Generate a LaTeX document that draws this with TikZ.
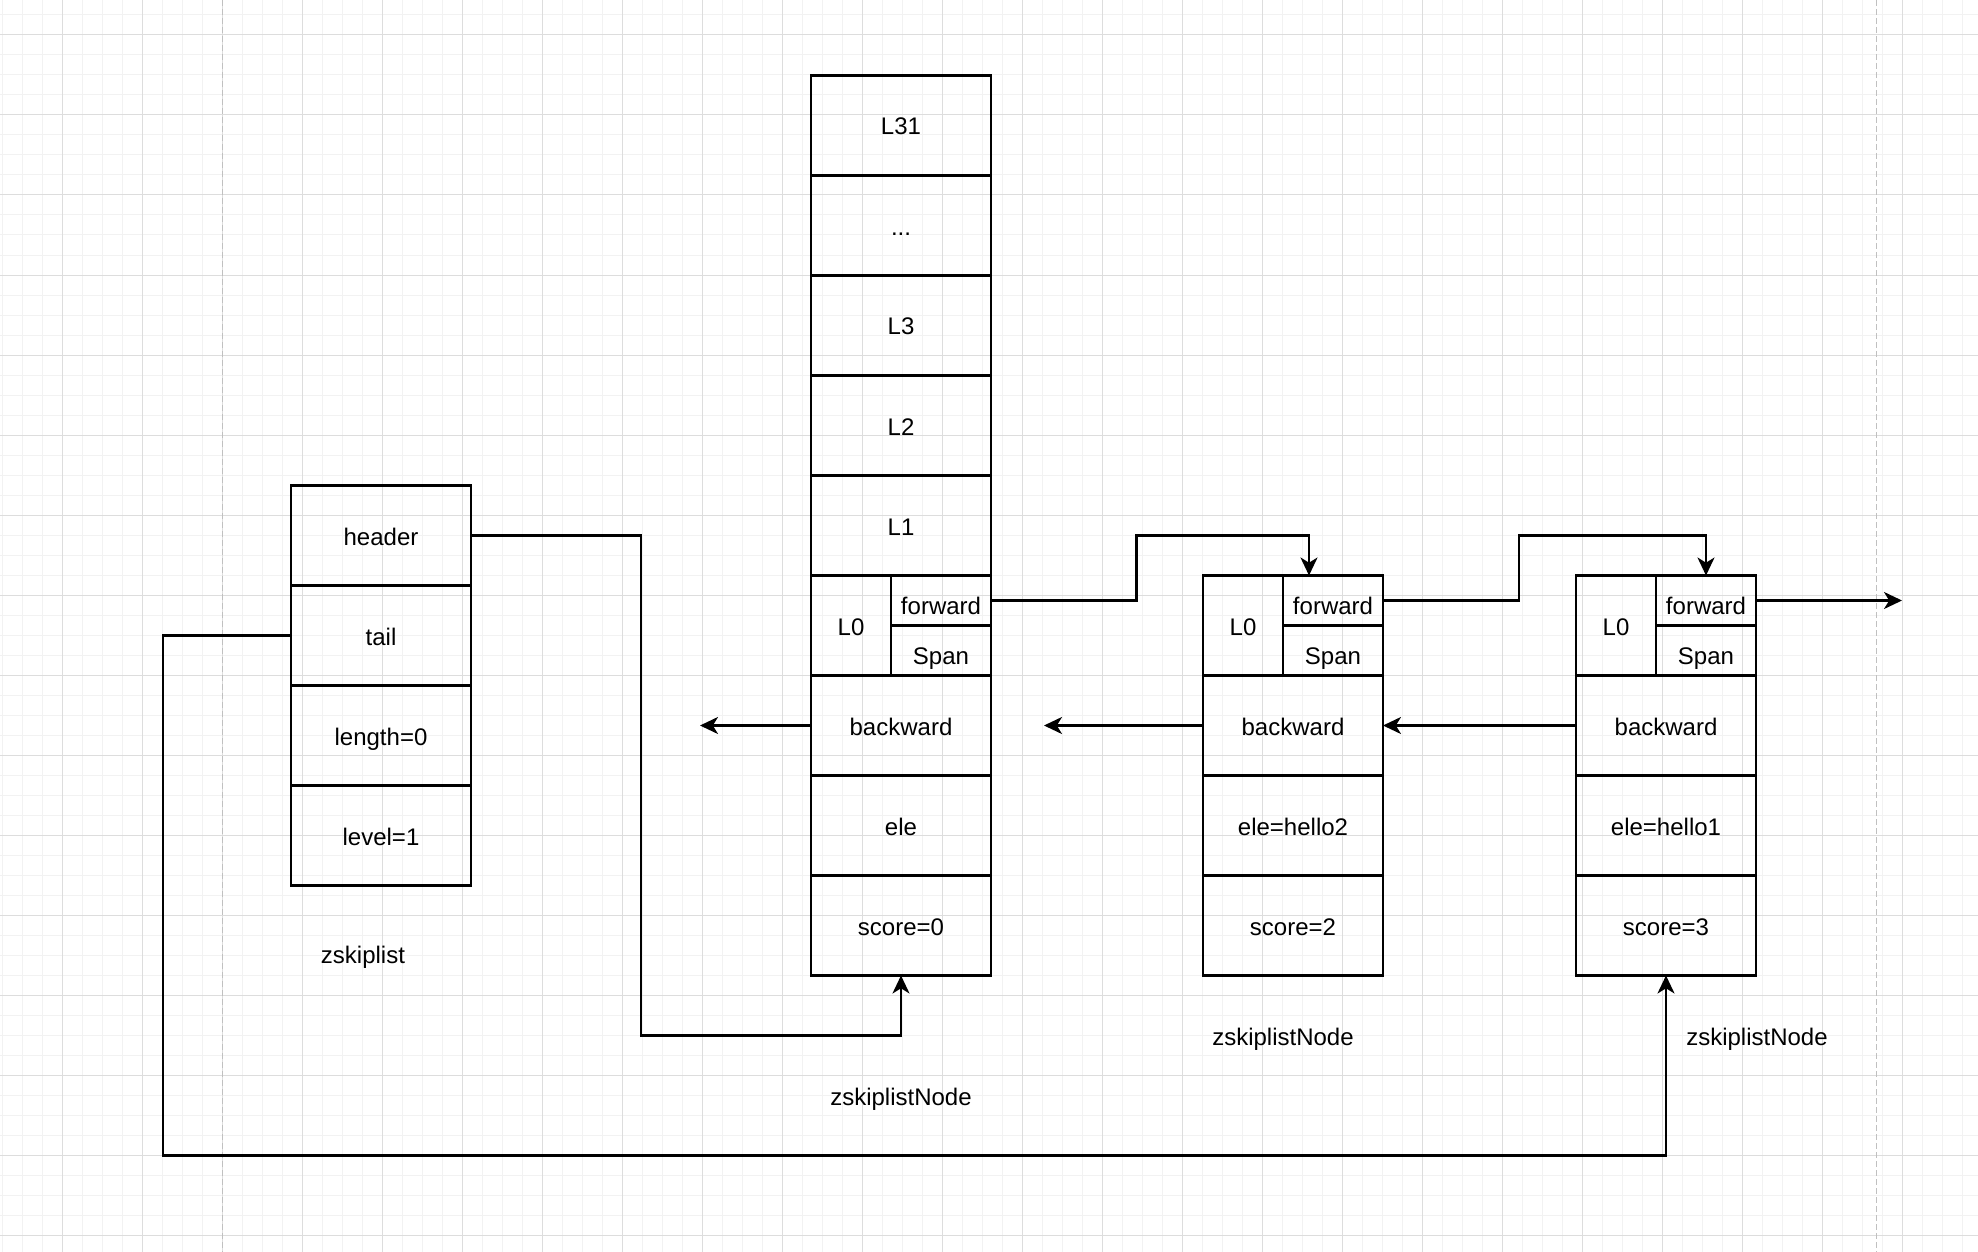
\documentclass[tikz,border=0pt]{standalone}
\usepackage{fontspec}
\setmainfont{Liberation Sans}
\usetikzlibrary{arrows.meta}
\definecolor{gmin}{HTML}{F2F2F2}
\definecolor{gmaj}{HTML}{DDDDDD}
\definecolor{pgbrk}{HTML}{C0C0C0}
\begin{document}
\begin{tikzpicture}[x=0.5pt,y=-0.5pt,
  txt/.style={font=\fontsize{12pt}{14pt}\selectfont, text height=12pt, text depth=2.5pt, inner sep=0pt, outer sep=0pt},
  cell/.style={txt, draw, line width=1.15pt, minimum width=90pt, minimum height=50pt},
  lcell/.style={txt, draw, line width=1.15pt, minimum width=40pt, minimum height=50pt},
  fcell/.style={txt, draw, line width=1.15pt, minimum width=50pt, minimum height=25pt, text height=16.5pt},
  lbl/.style={txt},
  conn/.style={line width=1.15pt, line join=miter, -{Stealth[length=9pt,width=8.5pt,inset=2.6pt]}},
  minorline/.style={gmin, line width=0.5pt},
  majorline/.style={gmaj, line width=0.5pt},
  pagebreak/.style={pgbrk, line width=0.9pt, dash pattern=on 3pt off 1.5pt}]
\useasboundingbox[fill=white] (0,0) rectangle (1978,1252);
% grid
\foreach \i in {0,...,98} {\draw[minorline] ({2.5+20*\i},0) -- ({2.5+20*\i},1252);}
\foreach \i in {0,...,62} {\draw[minorline] (0,{15+20*\i}) -- (1978,{15+20*\i});}
\foreach \i in {0,...,23} {\draw[majorline] ({62.5+80*\i},0) -- ({62.5+80*\i},1252);}
\foreach \i in {0,...,15} {\draw[majorline] (0,{35+80*\i}) -- (1978,{35+80*\i});}
\draw[pagebreak] (222.5,0) -- (222.5,1252);
\draw[pagebreak] (1876.5,0) -- (1876.5,1252);
% zskiplist
\node[cell] (hdr) at (381,535.5) {header};
\node[cell] (tl)  at (381,635.5) {tail};
\node[cell] (len) at (381,735.5) {length=0};
\node[cell] (lvl) at (381,835.5) {level=1};
\node[lbl] (lzl) at (363,953.5) {zskiplist};
% header node
\node[cell] (a31)   at (901,125.5) {L31};
\node[cell] (adots) at (901,225.5) {...};
\node[cell] (a3)    at (901,325.5) {L3};
\node[cell] (a2)    at (901,425.5) {L2};
\node[cell] (a1)    at (901,525.5) {L1};
\node[lcell] (a0)   at (851,625.5) {L0};
\node[fcell] (afwd) at (941,600.5) {forward};
\node[fcell] (aspan) at (941,650.5) {Span};
\node[cell] (aback) at (901,725.5) {backward};
\node[cell] (aele)  at (901,825.5) {ele};
\node[cell] (ascore) at (901,925.5) {score=0};
\node[lbl] (lna) at (901,1095.5) {zskiplistNode};
% node 2
\node[lcell] (b0)   at (1243,625.5) {L0};
\node[fcell] (bfwd) at (1333,600.5) {forward};
\node[fcell] (bspan) at (1333,650.5) {Span};
\node[cell] (bback) at (1293,725.5) {backward};
\node[cell] (bele)  at (1293,825.5) {ele=hello2};
\node[cell] (bscore) at (1293,925.5) {score=2};
\node[lbl] (lnb) at (1283,1035.5) {zskiplistNode};
% node 3
\node[lcell] (c0)   at (1616,625.5) {L0};
\node[fcell] (cfwd) at (1706,600.5) {forward};
\node[fcell] (cspan) at (1706,650.5) {Span};
\node[cell] (cback) at (1666,725.5) {backward};
\node[cell] (cele)  at (1666,825.5) {ele=hello1};
\node[cell] (cscore) at (1666,925.5) {score=3};
\node[lbl] (lnc) at (1757,1035.5) {zskiplistNode};
% helper coordinates
\coordinate (hb) at (641,1035.5);
\coordinate (tb) at (163,1155.5);
\coordinate (ab) at (1136.5,535.5);
\coordinate (bin) at (1309,575.5);
\coordinate (bb) at (1519,535.5);
\coordinate (aend) at (700,725.5);
\coordinate (bend) at (1044,725.5);
\coordinate (cend) at (1902,600.5);
% connectors
\draw[conn] (hdr.east) -| (hb) -| (ascore.south);
\draw[conn] (tl.west) -| (tb) -| (cscore.south);
\draw[conn] (afwd.east) -| (ab) -| (bin);
\draw[conn] (bfwd.east) -| (bb) -| (cfwd.north);
\draw[conn] (cfwd.east) -- (cend);
\draw[conn] (aback.west) -- (aend);
\draw[conn] (bback.west) -- (bend);
\draw[conn] (cback.west) -- (bback.east);
\end{tikzpicture}
\end{document}
